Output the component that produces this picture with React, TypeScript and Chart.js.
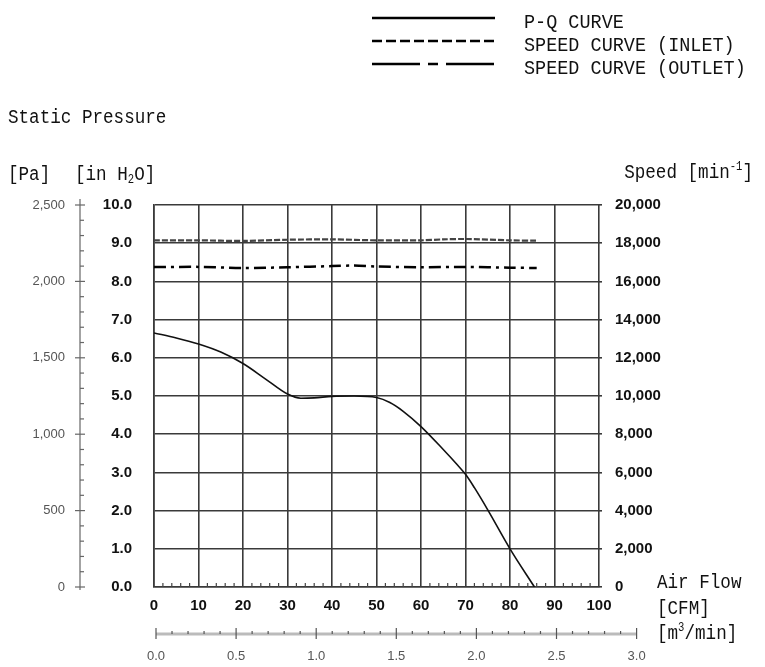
import React, { useEffect, useRef } from 'react';
import { Chart, registerables } from 'chart.js';

Chart.register(...registerables);

// P-Q curve: air flow [CFM] vs static pressure [in H2O]
const PQ_CFM = [0, 5, 10, 15, 20, 25, 30, 33, 36, 40, 45, 50, 53, 56, 60, 65, 68, 70, 72, 75, 80, 85.5];
const PQ_INH2O = [6.65, 6.52, 6.36, 6.15, 5.85, 5.45, 5.05, 4.94, 4.95, 4.99, 5.0, 4.96, 4.83, 4.6, 4.2, 3.6, 3.22, 2.95, 2.6, 2.02, 1.0, 0.0];

// Speed curves: air flow [CFM] vs speed [min^-1]
const INLET_CFM = [0, 10, 20, 30, 40, 50, 60, 65, 70, 80, 86];
const INLET_RPM = [18150, 18150, 18120, 18180, 18200, 18150, 18150, 18200, 18220, 18150, 18130];
const OUTLET_CFM = [0, 10, 20, 30, 40, 45, 50, 60, 70, 80, 86];
const OUTLET_RPM = [16750, 16760, 16700, 16740, 16800, 16830, 16780, 16740, 16760, 16720, 16700];

// Secondary air-flow axis [m3/min]
const M3_TICKS = [0, 0.5, 1.0, 1.5, 2.0, 2.5, 3.0];
const M3_TO_CFM = 36;

const LEGEND_LABELS = ['P-Q CURVE', 'SPEED CURVE (INLET)', 'SPEED CURVE (OUTLET)'];

const MONO = '"Liberation Mono", "DejaVu Sans Mono", monospace';
const SANS = '"Liberation Sans", Arial, sans-serif';
const SX = 0.88;

type Part = [string, 'n' | 'sup' | 'sub'];

function drawRich(ctx: CanvasRenderingContext2D, parts: Part[], x: number, y: number, size: number, align: 'left' | 'right') {
  const small = Math.round(size * 0.6);
  let total = 0;
  const widths = parts.map(([t, k]) => {
    ctx.font = `${k === 'n' ? size : small}px ${MONO}`;
    const w = ctx.measureText(t).width * SX;
    total += w;
    return w;
  });
  let cx = align === 'left' ? x : x - total;
  ctx.textAlign = 'left';
  ctx.textBaseline = 'middle';
  parts.forEach(([t, k], i) => {
    ctx.font = `${k === 'n' ? size : small}px ${MONO}`;
    const dy = k === 'sup' ? -size * 0.3 : k === 'sub' ? size * 0.25 : 0;
    ctx.save();
    ctx.translate(cx, y + dy);
    ctx.scale(SX, 1);
    ctx.fillText(t, 0, 0);
    ctx.restore();
    cx += widths[i];
  });
}

function line(ctx: CanvasRenderingContext2D, x1: number, y1: number, x2: number, y2: number) {
  ctx.beginPath();
  ctx.moveTo(x1, y1);
  ctx.lineTo(x2, y2);
  ctx.stroke();
}

const decoPlugin = {
  id: 'deco',
  afterDraw(chart: any) {
    const ctx: CanvasRenderingContext2D = chart.ctx;
    const x = chart.scales.x;
    const yPa = chart.scales.yPa;
    const area = chart.chartArea;
    ctx.save();

    // minor ticks along bottom border
    ctx.strokeStyle = '#444';
    ctx.lineWidth = 1.2;
    for (let v = 2; v < 100; v += 2) {
      if (v % 10 === 0) continue;
      const px = x.getPixelForValue(v);
      line(ctx, px, area.bottom, px, area.bottom - 4);
    }

    // Pa axis line and ticks
    const ax = yPa.right;
    ctx.strokeStyle = '#666';
    ctx.lineWidth = 1.2;
    line(ctx, ax, yPa.getPixelForValue(2500) - 6, ax, yPa.getPixelForValue(0) + 3);
    for (let v = 0; v <= 2500; v += 100) {
      const p = yPa.getPixelForValue(v);
      if (v % 500 === 0) line(ctx, ax - 5, p, ax + 5, p);
      else line(ctx, ax, p, ax + 4, p);
    }

    // m3/min axis
    const m3y = 634;
    const m3px = (v: number) => x.getPixelForValue(v * M3_TO_CFM) + 2;
    const m3max = M3_TICKS[M3_TICKS.length - 1];
    ctx.strokeStyle = '#bbb';
    ctx.lineWidth = 3;
    line(ctx, m3px(0), m3y, m3px(m3max), m3y);
    ctx.strokeStyle = '#555';
    ctx.lineWidth = 1.2;
    for (let i = 0; i <= Math.round(m3max * 10); i++) {
      const p = m3px(i / 10);
      if (i % 5 === 0) line(ctx, p, m3y - 6, p, m3y + 5);
      else line(ctx, p, m3y - 3, p, m3y);
    }
    ctx.fillStyle = '#555';
    ctx.font = `13px ${SANS}`;
    ctx.textAlign = 'center';
    ctx.textBaseline = 'middle';
    M3_TICKS.forEach((v) => ctx.fillText(v.toFixed(1), m3px(v), m3y + 22));

    // texts
    ctx.fillStyle = '#111';
    drawRich(ctx, [['Static Pressure', 'n']], 8, 118, 20, 'left');
    drawRich(ctx, [['[Pa]', 'n']], 8, 175, 20, 'left');
    drawRich(ctx, [['[in H', 'n'], ['2', 'sub'], ['O]', 'n']], 75, 175, 20, 'left');
    drawRich(ctx, [['Speed [min', 'n'], ['-1', 'sup'], [']', 'n']], 753, 173, 20, 'right');
    drawRich(ctx, [['Air Flow', 'n']], 657, 583, 20, 'left');
    drawRich(ctx, [['[CFM]', 'n']], 657, 609, 20, 'left');
    drawRich(ctx, [['[m', 'n'], ['3', 'sup'], ['/min]', 'n']], 657, 634, 20, 'left');

    // legend
    const ly = [18, 41, 64];
    const dashes = [[], [10, 4], [48, 8, 10, 8]];
    ctx.strokeStyle = '#000';
    ctx.lineWidth = 2.5;
    ly.forEach((yy, i) => {
      ctx.setLineDash(dashes[i]);
      line(ctx, 372, yy, 495, yy);
    });
    ctx.setLineDash([]);
    LEGEND_LABELS.forEach((t, i) => drawRich(ctx, [[t, 'n']], 524, ly[i] + 4, 21, 'left'));

    ctx.restore();
  },
};

export default function App() {
  const ref = useRef<HTMLCanvasElement>(null);

  useEffect(() => {
    if (!ref.current) return;
    const gridColor = '#3a3a3a';
    const boldTick = { family: SANS, size: 15, weight: 'bold' as const };
    const chart = new Chart(ref.current, {
      type: 'line',
      data: {
        datasets: [
          {
            label: LEGEND_LABELS[0],
            data: PQ_CFM.map((c, i) => ({ x: c, y: PQ_INH2O[i] })),
            yAxisID: 'y',
            borderColor: '#111',
            borderWidth: 1.6,
            pointRadius: 0,
            cubicInterpolationMode: 'monotone',
          },
          {
            label: LEGEND_LABELS[1],
            data: INLET_CFM.map((c, i) => ({ x: c, y: INLET_RPM[i] })),
            yAxisID: 'y2',
            borderColor: '#444',
            borderWidth: 2.2,
            borderDash: [6, 2],
            pointRadius: 0,
            tension: 0.3,
          },
          {
            label: LEGEND_LABELS[2],
            data: OUTLET_CFM.map((c, i) => ({ x: c, y: OUTLET_RPM[i] })),
            yAxisID: 'y2',
            borderColor: '#000',
            borderWidth: 2.5,
            borderDash: [12, 5, 3, 5],
            pointRadius: 0,
            tension: 0.3,
          },
        ],
      },
      options: {
        responsive: false,
        animation: false,
        events: [],
        layout: { padding: { left: 0, right: 0, top: 205, bottom: 40 } },
        plugins: { legend: { display: false }, tooltip: { enabled: false } },
        scales: {
          x: {
            type: 'linear',
            min: 0,
            max: 100,
            ticks: { stepSize: 10, font: boldTick, color: '#111', padding: 10 },
            grid: { color: gridColor, lineWidth: 1.6, drawTicks: false },
            border: { color: gridColor, width: 1.6 },
            afterFit: (s: any) => { s.height = 40; },
          },
          y: {
            type: 'linear',
            position: 'left',
            weight: 0,
            min: 0,
            max: 10,
            ticks: { stepSize: 1, font: boldTick, color: '#111', padding: 22, callback: (v: any) => Number(v).toFixed(1) },
            grid: { color: gridColor, lineWidth: 1.6, drawTicks: false },
            border: { color: gridColor, width: 1.6 },
            afterFit: (s: any) => { s.width = 74; },
          },
          yPa: {
            type: 'linear',
            position: 'left',
            weight: 10,
            min: 0,
            max: 2500,
            ticks: { stepSize: 500, font: { family: SANS, size: 13 }, color: '#555', padding: 15, callback: (v: any) => Number(v).toLocaleString('en-US') },
            grid: { drawOnChartArea: false, drawTicks: false },
            border: { display: false },
            afterFit: (s: any) => { s.width = 80; },
          },
          y2: {
            type: 'linear',
            position: 'right',
            min: 0,
            max: 20000,
            ticks: { stepSize: 2000, font: boldTick, color: '#111', padding: 13, callback: (v: any) => Number(v).toLocaleString('en-US') },
            grid: { drawOnChartArea: false, tickLength: 3, color: gridColor, lineWidth: 1.6 },
            border: { display: false },
            afterFit: (s: any) => { s.width = 166; },
          },
        },
      },
      plugins: [decoPlugin],
    });
    return () => chart.destroy();
  }, []);

  return (
    <div style={{ position: 'absolute', left: 0, top: 0, width: 765, height: 667, background: '#fff' }}>
      <canvas ref={ref} width={765} height={667} style={{ display: 'block' }} />
    </div>
  );
}
